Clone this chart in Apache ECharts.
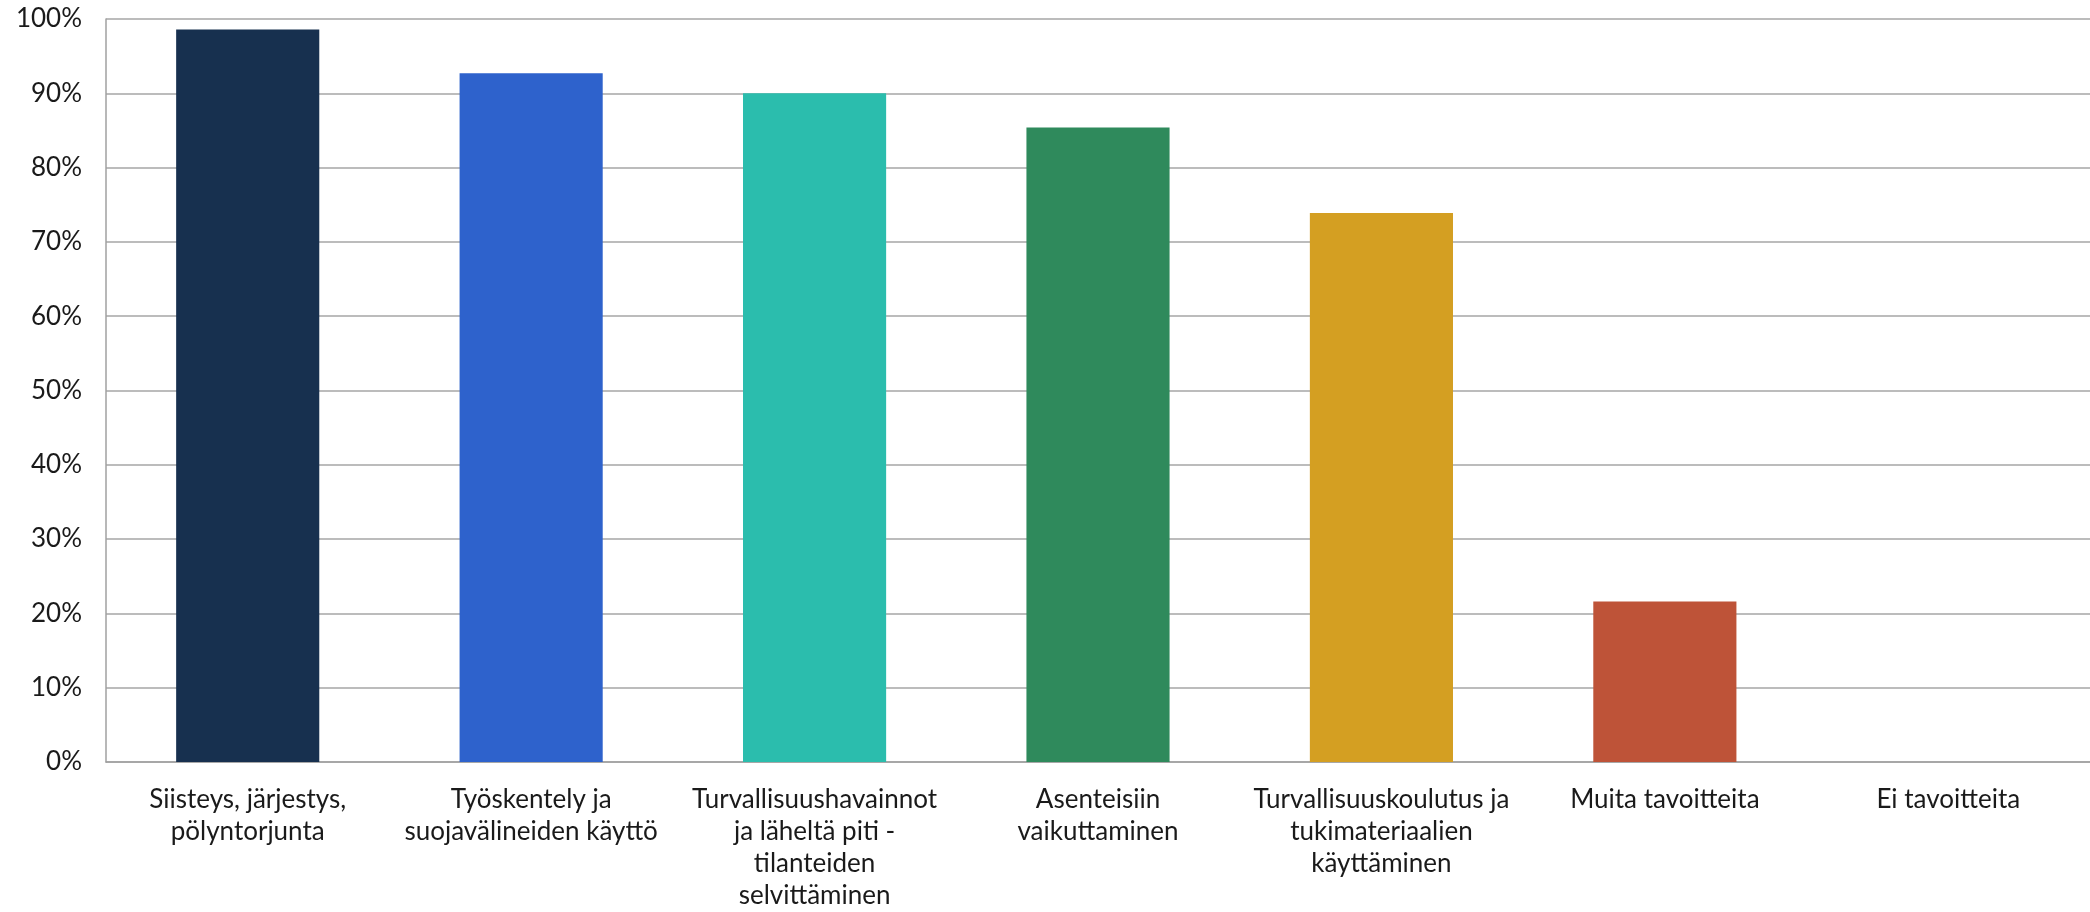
<!DOCTYPE html>
<html>
<head>
<meta charset="utf-8">
<script src="https://cdn.jsdelivr.net/npm/echarts@6/dist/echarts.min.js"></script>
<style>
html,body{margin:0;padding:0;background:#fff;}
#chart{width:2090px;height:912px;}
</style>
</head>
<body>
<div id="chart"></div>
<script>
const categories = [
  "Siisteys, järjestys,\npölyntorjunta",
  "Työskentely ja\nsuojavälineiden käyttö",
  "Turvallisuushavainnot\nja läheltä piti -\ntilanteiden\nselvittäminen",
  "Asenteisiin\nvaikuttaminen",
  "Turvallisuuskoulutus ja\ntukimateriaalien\nkäyttäminen",
  "Muita tavoitteita",
  "Ei tavoitteita"
];
const values = [98.6, 92.7, 90.0, 85.4, 73.9, 21.6, 0];
const barColors = ["#17304F", "#2E62CC", "#2BBDAD", "#2F8A5C", "#D49F22", "#BE5338", "#888888"];
const yTicks = [0, 10, 20, 30, 40, 50, 60, 70, 80, 90, 100];

const chart = echarts.init(document.getElementById('chart'));
chart.setOption({
  animation: false,
  textStyle: { fontFamily: 'Lato' },
  grid: { left: 106, right: 0, top: 19, bottom: 143, containLabel: false },
  xAxis: {
    type: 'category',
    data: categories,
    axisLine: { show: true, lineStyle: { color: '#A0A0A0', width: 1.5 } },
    axisTick: { show: false },
    axisLabel: {
      interval: 0,
      color: '#1a1a1a',
      fontSize: 26,
      lineHeight: 32,
      margin: 22,
      fontFamily: 'Lato'
    }
  },
  yAxis: {
    type: 'value',
    min: yTicks[0],
    max: yTicks[yTicks.length - 1],
    interval: 10,
    axisLine: { show: true, lineStyle: { color: '#A0A0A0', width: 1.5 } },
    axisTick: { show: false },
    splitLine: { show: true, lineStyle: { color: '#A6A6A6', width: 1.5 } },
    axisLabel: {
      formatter: '{value}%',
      color: '#1a1a1a',
      fontSize: 26,
      margin: 24,
      fontFamily: 'Lato'
    }
  },
  series: [{
    type: 'bar',
    barWidth: '50.5%',
    data: values.map((v, i) => ({ value: v, itemStyle: { color: barColors[i] } }))
  }]
});
</script>
</body>
</html>
